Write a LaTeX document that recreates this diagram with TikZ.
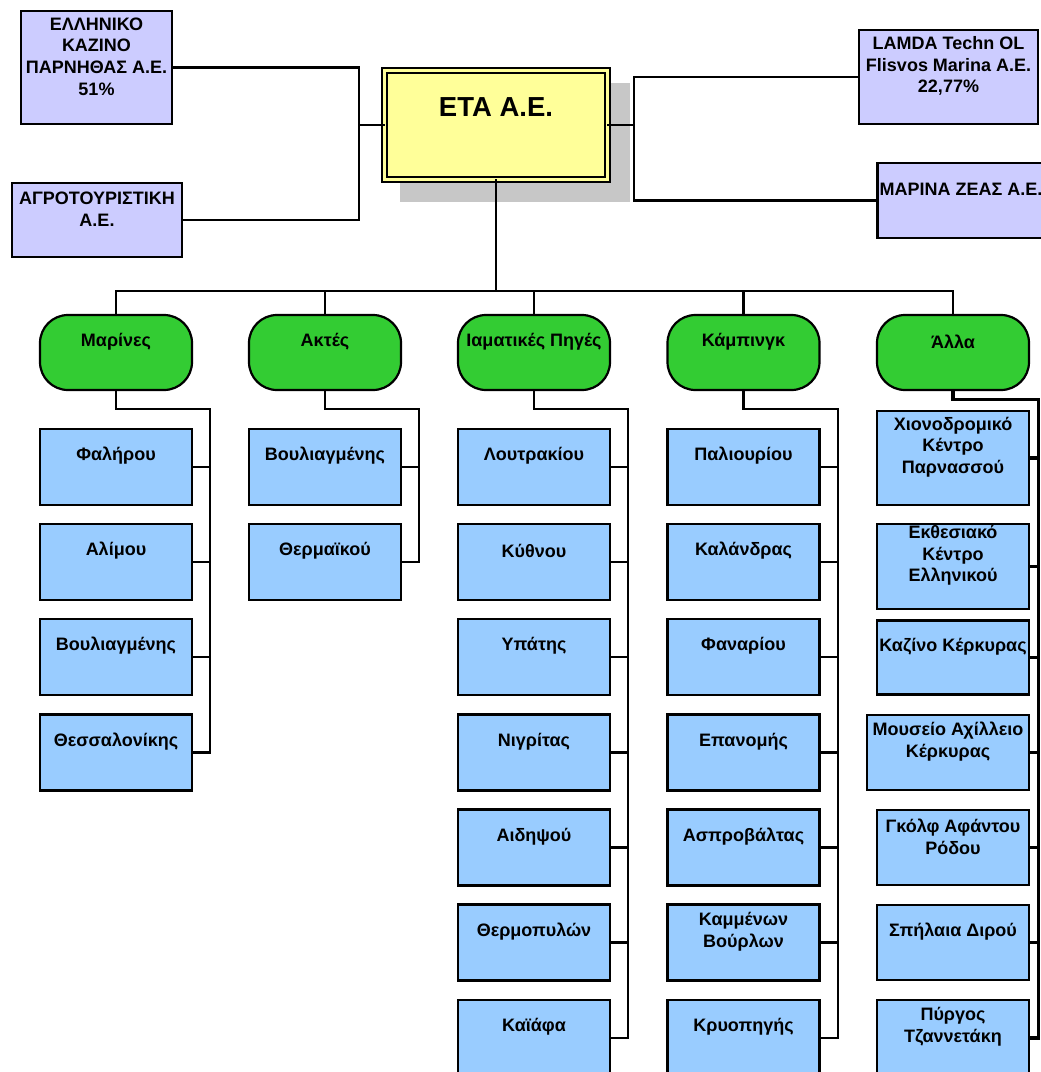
\documentclass[tikz,border=0pt]{standalone}
\usepackage{fontspec}
\setmainfont{Liberation Sans}

\definecolor{holdingblue}{HTML}{CCCCFF}
\definecolor{etayellow}{HTML}{FFFF99}
\definecolor{sectorgreen}{HTML}{33CC33}
\definecolor{siteblue}{HTML}{99CCFF}

\tikzset{
  orgbox/.style={draw, line width=2.2pt, inner sep=0pt, minimum width=152pt},
  holding/.style={orgbox, fill=holdingblue},
  sector/.style={orgbox, fill=sectorgreen, rounded corners=28pt},
  site/.style={orgbox, fill=siteblue},
  unittext/.style={align=center, inner sep=0pt, font=\fontsize{18}{21.7}\selectfont\bfseries},
  link/.style={line width=2.2pt, line cap=rect},
  thicklink/.style={line width=3.2pt, line cap=rect},
}

% box with its text set a little above the centre
\newcommand{\orgunit}[5]{%
  \node[#1, minimum height=#4pt] (#2) at (#3) {};
  \node[unittext] (#2-t) at ([yshift=11pt]#2.center) {#5};}

\begin{document}
\begin{tikzpicture}[x=1pt, y=-1pt]
  \useasboundingbox (0,0) rectangle (1041,1072);

  % holdings
  \fill[black!22] (400,83) rectangle (630,202);
  \node[draw, line width=2pt, double=etayellow, double distance=3pt, fill=etayellow,
        minimum width=223pt, minimum height=109pt] (eta) at (496,125) {};
  \node[font=\fontsize{27.5}{32}\selectfont\bfseries] (eta-t) at ([yshift=18pt]eta.center) {ΕΤΑ Α.Ε.};
  \orgunit{holding, minimum width=151pt}{parnitha}{96.5,67.5}{113}{ΕΛΛΗΝΙΚΟ\\ΚΑΖΙΝΟ\\ΠΑΡΝΗΘΑΣ Α.Ε.\\51\%}
  \orgunit{holding, minimum width=170pt}{agro}{97,220}{74}{ΑΓΡΟΤΟΥΡΙΣΤΙΚΗ\\Α.Ε.}
  \orgunit{holding, minimum width=179pt}{flisvos}{948.5,77}{94}{LAMDA Techn OL\\Flisvos Marina A.E.\\22,77\%}
  \orgunit{holding, minimum width=167pt}{zea}{961,200.5}{75}{ΜΑΡΙΝΑ ΖΕΑΣ Α.Ε.}

  \coordinate (lj) at (359,125);
  \coordinate (rj) at (634,125);
  \draw[link] (parnitha.east) -| (lj) |- (agro.east);
  \draw[link] (lj) -- (eta.west);
  \draw[link] (eta.east) -- (rj);
  \draw[link] (flisvos.west) -| (rj) |- (zea.west);

  % sectors
  \orgunit{sector}{marines}{116,352.5}{75}{Μαρίνες}
  \orgunit{sector}{aktes}{325,352.5}{75}{Ακτές}
  \orgunit{sector}{iamatikes}{534,352.5}{75}{Ιαματικές Πηγές}
  \orgunit{sector}{camping}{743.5,352.5}{75}{Κάμπινγκ}
  \orgunit{sector}{alla}{953,352.5}{75}{Άλλα}

  \coordinate (bus) at (496,291);
  \draw[link] (eta.south) -- (bus);
  \draw[link] (marines.north) |- (alla.north |- bus) -- (alla.north);
  \foreach \s in {aktes,iamatikes,camping}
    \draw[link] (\s.north) -- (\s.north |- bus);

  % marinas
  \orgunit{site}{m1}{116,467}{76}{Φαλήρου}
  \orgunit{site}{m2}{116,562}{76}{Αλίμου}
  \orgunit{site}{m3}{116,657}{76}{Βουλιαγμένης}
  \orgunit{site}{m4}{116,752.5}{76}{Θεσσαλονίκης}

  % beaches
  \orgunit{site}{a1}{325,467}{76}{Βουλιαγμένης}
  \orgunit{site}{a2}{325,562}{76}{Θερμαϊκού}

  % spas
  \orgunit{site}{i1}{534,467}{76}{Λουτρακίου}
  \orgunit{site}{i2}{534,562}{76}{Κύθνου}
  \orgunit{site}{i3}{534,657}{76}{Υπάτης}
  \orgunit{site}{i4}{534,752.5}{76}{Νιγρίτας}
  \orgunit{site}{i5}{534,847.5}{76}{Αιδηψού}
  \orgunit{site}{i6}{534,942.5}{76}{Θερμοπυλών}
  \orgunit{site}{i7}{534,1038}{76}{Καϊάφα}

  % camping
  \orgunit{site}{c1}{743.5,467}{76}{Παλιουρίου}
  \orgunit{site}{c2}{743.5,562}{76}{Καλάνδρας}
  \orgunit{site}{c3}{743.5,657}{76}{Φαναρίου}
  \orgunit{site}{c4}{743.5,752.5}{76}{Επανομής}
  \orgunit{site}{c5}{743.5,847.5}{76}{Ασπροβάλτας}
  \orgunit{site}{c6}{743.5,942.5}{76}{Καμμένων\\Βούρλων}
  \orgunit{site}{c7}{743.5,1038}{76}{Κρυοπηγής}

  % other
  \orgunit{site}{x1}{953,458}{94}{Χιονοδρομικό\\Κέντρο\\Παρνασσού}
  \orgunit{site}{x2}{953,566.5}{85}{Εκθεσιακό\\Κέντρο\\Ελληνικού}
  \orgunit{site}{x3}{953,657.5}{74}{Καζίνο Κέρκυρας}
  \orgunit{site, minimum width=162pt}{x4}{948,752.5}{75}{Μουσείο Αχίλλειο\\Κέρκυρας}
  \orgunit{site}{x5}{953,847.5}{75}{Γκόλφ Αφάντου\\Ρόδου}
  \orgunit{site}{x6}{953,942.5}{75}{Σπήλαια Διρού}
  \orgunit{site}{x7}{953,1038}{76}{Πύργος\\Τζαννετάκη}

  % sector to site links
  \draw[link] (marines.south) -- ++(0,18) -| ([xshift=17pt]m4.east) -- (m4.east);
  \foreach \n in {m1,m2,m3} \draw[link] (\n.east) -- ++(17,0);
  \draw[link] (aktes.south) -- ++(0,18) -| ([xshift=17pt]a2.east) -- (a2.east);
  \draw[link] (a1.east) -- ++(17,0);
  \draw[link] (iamatikes.south) -- ++(0,18) -| ([xshift=17pt]i7.east) -- (i7.east);
  \foreach \n in {i1,i2,i3,i4,i5,i6} \draw[link] (\n.east) -- ++(17,0);
  \draw[link] (camping.south) -- ++(0,18) -| ([xshift=17pt]c7.east) -- (c7.east);
  \foreach \n in {c1,c2,c3,c4,c5,c6} \draw[link] (\n.east) -- ++(17,0);
  \draw[thicklink] (alla.south) -- ++(0,8) -| ([xshift=8pt]x7.east) -- (x7.east);
  \foreach \n in {x1,x2,x3,x4,x5,x6} \draw[thicklink] (\n.east) -- ++(8,0);
\end{tikzpicture}
\end{document}
